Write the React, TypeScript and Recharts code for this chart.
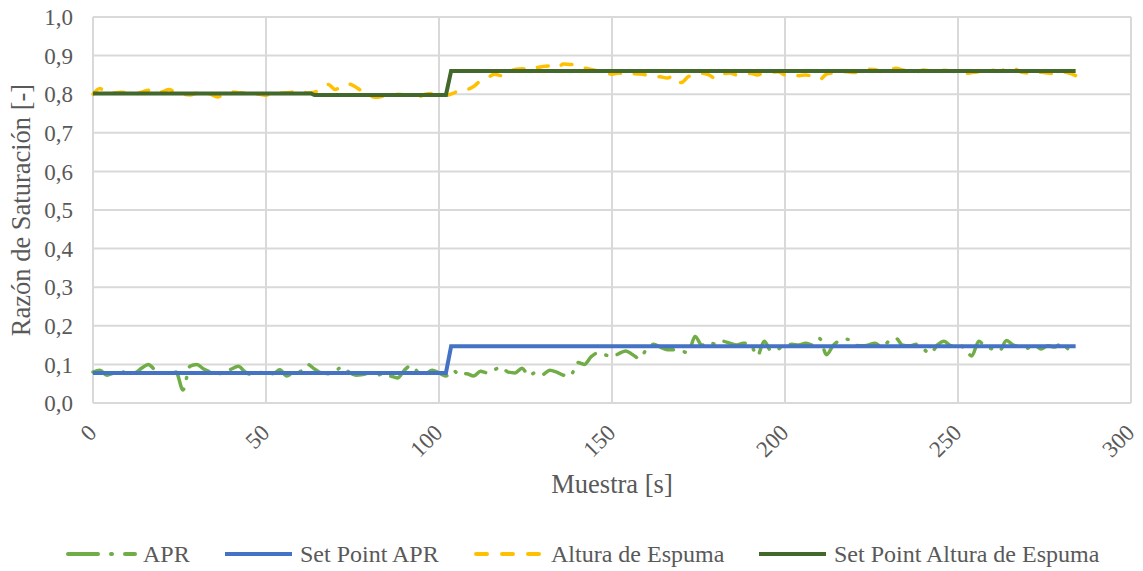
import React from "react";
import { LineChart, Line, XAxis, YAxis, CartesianGrid, Legend } from "recharts";

const FONT = '"Liberation Serif", "Times New Roman"';
const TEXT = "#595959";
const GRID = "#d9d9d9";

const C_APR = "#70ad47";
const C_SP_APR = "#4472c4";
const C_ALT = "#ffc000";
const C_SP_ALT = "#43682b";

// samples every 2 s, from 0 to 284 s
const SAMPLE_STEP = 2;

const APR = [
  0.08, 0.085, 0.072, 0.078, 0.082, 0.077, 0.078, 0.09, 0.1, 0.085,
  0.078, 0.075, 0.08, 0.034, 0.095, 0.1, 0.088, 0.08, 0.076, 0.078,
  0.088, 0.095, 0.08, 0.074, 0.078, 0.08, 0.076, 0.086, 0.07, 0.08,
  0.082, 0.1, 0.088, 0.078, 0.076, 0.082, 0.094, 0.08, 0.072, 0.074,
  0.078, 0.072, 0.076, 0.07, 0.065, 0.085, 0.097, 0.08, 0.075, 0.085,
  0.078, 0.07, 0.085, 0.072, 0.076, 0.07, 0.082, 0.078, 0.086, 0.093,
  0.08, 0.078, 0.09, 0.07, 0.08, 0.074, 0.085, 0.08, 0.072, 0.07,
  0.105, 0.1, 0.12, 0.13, 0.125, 0.12, 0.128, 0.135, 0.125, 0.115,
  0.14, 0.152, 0.145, 0.138, 0.138, 0.135, 0.13, 0.172, 0.15, 0.158,
  0.152, 0.16, 0.155, 0.15, 0.155, 0.152, 0.122, 0.16, 0.135, 0.14,
  0.148, 0.152, 0.15, 0.155, 0.15, 0.167, 0.125, 0.15, 0.162, 0.165,
  0.15, 0.148, 0.15, 0.155, 0.145, 0.16, 0.168, 0.15, 0.148, 0.152,
  0.14, 0.128, 0.15, 0.16, 0.148, 0.152, 0.14, 0.122, 0.16, 0.145,
  0.14, 0.135, 0.162, 0.15, 0.145, 0.142, 0.15, 0.14, 0.148, 0.145,
  0.155, 0.14, 0.155,
];

const ALTURA = [
  0.8, 0.815, 0.8, 0.803, 0.805, 0.803, 0.8, 0.805, 0.81, 0.802,
  0.806, 0.812, 0.804, 0.8, 0.798, 0.803, 0.806, 0.8, 0.793, 0.8,
  0.806, 0.804, 0.803, 0.798, 0.8, 0.797, 0.808, 0.803, 0.804, 0.806,
  0.81, 0.803, 0.805, 0.815, 0.825, 0.812, 0.822, 0.826, 0.818, 0.806,
  0.796, 0.792, 0.795, 0.794, 0.8, 0.798, 0.8, 0.793, 0.8, 0.802,
  0.798, 0.797, 0.802, 0.81, 0.812, 0.82, 0.835, 0.842, 0.852, 0.848,
  0.858, 0.864, 0.866, 0.862, 0.868, 0.872, 0.873, 0.868, 0.878, 0.877,
  0.875, 0.868, 0.864, 0.86, 0.856, 0.852, 0.855, 0.85, 0.853, 0.852,
  0.85, 0.846, 0.845, 0.842, 0.848, 0.83, 0.845, 0.852, 0.854, 0.85,
  0.84, 0.852, 0.855, 0.85, 0.852, 0.854, 0.85, 0.856, 0.857, 0.858,
  0.85, 0.852, 0.848, 0.85, 0.845, 0.838, 0.852, 0.855, 0.857, 0.858,
  0.856, 0.86, 0.865, 0.864, 0.858, 0.862, 0.867, 0.863, 0.86, 0.858,
  0.863, 0.86, 0.858, 0.862, 0.86, 0.857, 0.854, 0.856, 0.858, 0.86,
  0.862, 0.86, 0.866, 0.868, 0.858, 0.855, 0.852, 0.857, 0.855, 0.853,
  0.857, 0.855, 0.848,
];

// set points (step changes)
const SP_APR_TIMES = [0, 102, 103.5, 284];
const SP_APR_VALUES = [0.078, 0.078, 0.147, 0.147];
const SP_ALT_TIMES = [0, 63, 64, 102, 103.5, 284];
const SP_ALT_VALUES = [0.802, 0.802, 0.798, 0.798, 0.86, 0.86];

const X_TICKS = [0, 50, 100, 150, 200, 250, 300];
const Y_TICKS = [0, 0.1, 0.2, 0.3, 0.4, 0.5, 0.6, 0.7, 0.8, 0.9, 1.0];

const samples = APR.map((v, i) => ({ t: i * SAMPLE_STEP, apr: v, altura: ALTURA[i] }));
const spApr = SP_APR_TIMES.map((t, i) => ({ t, spApr: SP_APR_VALUES[i] }));
const spAlt = SP_ALT_TIMES.map((t, i) => ({ t, spAlt: SP_ALT_VALUES[i] }));

const APR_DASH = "22 11 1 11";
const ALT_DASH = "11 14";

const LEGEND_ITEMS = [
  { name: "APR", color: C_APR, dash: "30 13 1 13", left: 66 },
  { name: "Set Point APR", color: C_SP_APR, dash: "", left: 223 },
  { name: "Altura de Espuma", color: C_ALT, dash: "11 15", left: 474 },
  { name: "Set Point Altura de Espuma", color: C_SP_ALT, dash: "", left: 757 },
];

function XTick(props: any) {
  const { x, y, payload } = props;
  return (
    <text
      x={x + 5}
      y={y + 23}
      transform={`rotate(-45, ${x + 5}, ${y + 23})`}
      textAnchor="end"
      fontSize={23}
      fontFamily={FONT}
      fill={TEXT}
    >
      {payload.value}
    </text>
  );
}

function ChartLegend() {
  return (
    <div style={{ position: "relative", width: 1143, height: 36, fontFamily: FONT, fontSize: 24, color: TEXT }}>
      {LEGEND_ITEMS.map((it) => (
        <div key={it.name} style={{ position: "absolute", left: it.left, top: 0, display: "flex", alignItems: "center", height: 36, whiteSpace: "nowrap" }}>
          <svg width={71} height={10} style={{ marginRight: 6 }}>
            <line
              x1={2}
              y1={5}
              x2={69}
              y2={5}
              stroke={it.color}
              strokeWidth={4}
              strokeDasharray={it.dash || undefined}
              strokeLinecap={it.dash ? "round" : "butt"}
            />
          </svg>
          <span>{it.name}</span>
        </div>
      ))}
    </div>
  );
}

export default function App() {
  return (
    <div style={{ position: "absolute", left: 0, top: 0, width: 1143, height: 571, background: "#fff", fontFamily: FONT }}>
      <LineChart width={1143} height={571} data={samples} margin={{ top: 17, right: 12, left: 0, bottom: 22 }} style={{ fontFamily: FONT }}>
        <CartesianGrid stroke={GRID} strokeWidth={2} />
        <XAxis
          type="number"
          dataKey="t"
          domain={[0, 300]}
          ticks={X_TICKS}
          interval={0}
          height={110}
          axisLine={{ stroke: GRID, strokeWidth: 2 }}
          tickLine={false}
          tick={<XTick />}
          label={{ value: "Muestra [s]", position: "insideBottom", offset: 20, fill: TEXT, fontSize: 26.5, fontFamily: FONT }}
        />
        <YAxis
          type="number"
          domain={[0, 1]}
          ticks={Y_TICKS}
          interval={0}
          width={93}
          axisLine={false}
          tickLine={false}
          tickMargin={14}
          tickFormatter={(v: number) => v.toFixed(1).replace(".", ",")}
          tick={{ fontSize: 23, fill: TEXT, fontFamily: FONT }}
          label={{ value: "Razón de Saturación [-]", angle: -90, position: "insideLeft", offset: 21, fill: TEXT, fontSize: 26.5, fontFamily: FONT, style: { textAnchor: "middle" } }}
        />
        <Legend
          verticalAlign="bottom"
          content={() => <ChartLegend />}
          wrapperStyle={{ position: "absolute", left: 0, top: 536, width: 1143, height: 36 }}
        />
        <Line
          dataKey="apr"
          name="APR"
          type="monotone"
          stroke={C_APR}
          strokeWidth={3.5}
          strokeDasharray={APR_DASH}
          strokeLinecap="round"
          dot={false}
          isAnimationActive={false}
        />
        <Line
          data={spApr}
          dataKey="spApr"
          name="Set Point APR"
          type="linear"
          stroke={C_SP_APR}
          strokeWidth={4}
          dot={false}
          isAnimationActive={false}
        />
        <Line
          dataKey="altura"
          name="Altura de Espuma"
          type="monotone"
          stroke={C_ALT}
          strokeWidth={3.5}
          strokeDasharray={ALT_DASH}
          strokeLinecap="round"
          dot={false}
          isAnimationActive={false}
        />
        <Line
          data={spAlt}
          dataKey="spAlt"
          name="Set Point Altura de Espuma"
          type="linear"
          stroke={C_SP_ALT}
          strokeWidth={4}
          dot={false}
          isAnimationActive={false}
        />
      </LineChart>
    </div>
  );
}
